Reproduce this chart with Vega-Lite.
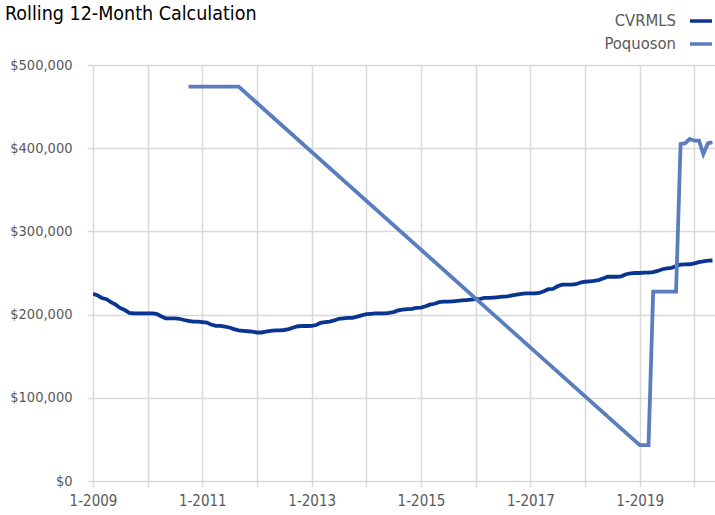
{
  "$schema": "https://vega.github.io/schema/vega-lite/v6.json",
  "width": 622,
  "height": 416,
  "autosize": {"type": "none"},
  "padding": {"left": 93, "top": 65, "right": 0, "bottom": 34},
  "background": "white",
  "title": {
    "text": "Rolling 12-Month Calculation",
    "anchor": "start",
    "frame": "group",
    "orient": "top",
    "baseline": "alphabetic",
    "dx": -88,
    "dy": 19,
    "offset": -10,
    "font": "DejaVu Sans Condensed, Liberation Sans, sans-serif",
    "fontSize": 19.5,
    "fontWeight": "normal",
    "color": "#000000"
  },
  "config": {
    "view": {"stroke": null},
    "axis": {
      "gridColor": "#d9d9d9",
      "gridWidth": 1.5,
      "tickColor": "#d9d9d9",
      "tickWidth": 1.5,
      "tickSize": 6,
      "domain": false,
      "labelFont": "DejaVu Sans Condensed, Liberation Sans, sans-serif",
      "labelFontSize": 15,
      "labelColor": "#595959",
      "title": null
    }
  },
  "data": {
    "values": [
      {"series": "CVRMLS", "date": "2009-01-01T00:00:00", "value": 225000},
      {"series": "CVRMLS", "date": "2009-02-01T00:00:00", "value": 223000},
      {"series": "CVRMLS", "date": "2009-03-01T00:00:00", "value": 220000},
      {"series": "CVRMLS", "date": "2009-04-01T00:00:00", "value": 218500},
      {"series": "CVRMLS", "date": "2009-05-01T00:00:00", "value": 215000},
      {"series": "CVRMLS", "date": "2009-06-01T00:00:00", "value": 212000},
      {"series": "CVRMLS", "date": "2009-07-01T00:00:00", "value": 208000},
      {"series": "CVRMLS", "date": "2009-08-01T00:00:00", "value": 205500},
      {"series": "CVRMLS", "date": "2009-09-01T00:00:00", "value": 202000},
      {"series": "CVRMLS", "date": "2009-10-01T00:00:00", "value": 201500},
      {"series": "CVRMLS", "date": "2009-11-01T00:00:00", "value": 201500},
      {"series": "CVRMLS", "date": "2009-12-01T00:00:00", "value": 201500},
      {"series": "CVRMLS", "date": "2010-01-01T00:00:00", "value": 201500},
      {"series": "CVRMLS", "date": "2010-02-01T00:00:00", "value": 201500},
      {"series": "CVRMLS", "date": "2010-03-01T00:00:00", "value": 201000},
      {"series": "CVRMLS", "date": "2010-04-01T00:00:00", "value": 198000},
      {"series": "CVRMLS", "date": "2010-05-01T00:00:00", "value": 195500},
      {"series": "CVRMLS", "date": "2010-06-01T00:00:00", "value": 195500},
      {"series": "CVRMLS", "date": "2010-07-01T00:00:00", "value": 195500},
      {"series": "CVRMLS", "date": "2010-08-01T00:00:00", "value": 195000},
      {"series": "CVRMLS", "date": "2010-09-01T00:00:00", "value": 193500},
      {"series": "CVRMLS", "date": "2010-10-01T00:00:00", "value": 192500},
      {"series": "CVRMLS", "date": "2010-11-01T00:00:00", "value": 191500},
      {"series": "CVRMLS", "date": "2010-12-01T00:00:00", "value": 191500},
      {"series": "CVRMLS", "date": "2011-01-01T00:00:00", "value": 191000},
      {"series": "CVRMLS", "date": "2011-02-01T00:00:00", "value": 190500},
      {"series": "CVRMLS", "date": "2011-03-01T00:00:00", "value": 188000},
      {"series": "CVRMLS", "date": "2011-04-01T00:00:00", "value": 186500},
      {"series": "CVRMLS", "date": "2011-05-01T00:00:00", "value": 186500},
      {"series": "CVRMLS", "date": "2011-06-01T00:00:00", "value": 185500},
      {"series": "CVRMLS", "date": "2011-07-01T00:00:00", "value": 184500},
      {"series": "CVRMLS", "date": "2011-08-01T00:00:00", "value": 182500},
      {"series": "CVRMLS", "date": "2011-09-01T00:00:00", "value": 181000},
      {"series": "CVRMLS", "date": "2011-10-01T00:00:00", "value": 180500},
      {"series": "CVRMLS", "date": "2011-11-01T00:00:00", "value": 180000},
      {"series": "CVRMLS", "date": "2011-12-01T00:00:00", "value": 179500},
      {"series": "CVRMLS", "date": "2012-01-01T00:00:00", "value": 178500},
      {"series": "CVRMLS", "date": "2012-02-01T00:00:00", "value": 178500},
      {"series": "CVRMLS", "date": "2012-03-01T00:00:00", "value": 179500},
      {"series": "CVRMLS", "date": "2012-04-01T00:00:00", "value": 180500},
      {"series": "CVRMLS", "date": "2012-05-01T00:00:00", "value": 181000},
      {"series": "CVRMLS", "date": "2012-06-01T00:00:00", "value": 181000},
      {"series": "CVRMLS", "date": "2012-07-01T00:00:00", "value": 181500},
      {"series": "CVRMLS", "date": "2012-08-01T00:00:00", "value": 182500},
      {"series": "CVRMLS", "date": "2012-09-01T00:00:00", "value": 184500},
      {"series": "CVRMLS", "date": "2012-10-01T00:00:00", "value": 186000},
      {"series": "CVRMLS", "date": "2012-11-01T00:00:00", "value": 186300},
      {"series": "CVRMLS", "date": "2012-12-01T00:00:00", "value": 186300},
      {"series": "CVRMLS", "date": "2013-01-01T00:00:00", "value": 186500},
      {"series": "CVRMLS", "date": "2013-02-01T00:00:00", "value": 187500},
      {"series": "CVRMLS", "date": "2013-03-01T00:00:00", "value": 190000},
      {"series": "CVRMLS", "date": "2013-04-01T00:00:00", "value": 191000},
      {"series": "CVRMLS", "date": "2013-05-01T00:00:00", "value": 191500},
      {"series": "CVRMLS", "date": "2013-06-01T00:00:00", "value": 193000},
      {"series": "CVRMLS", "date": "2013-07-01T00:00:00", "value": 195000},
      {"series": "CVRMLS", "date": "2013-08-01T00:00:00", "value": 195500},
      {"series": "CVRMLS", "date": "2013-09-01T00:00:00", "value": 196000},
      {"series": "CVRMLS", "date": "2013-10-01T00:00:00", "value": 196000},
      {"series": "CVRMLS", "date": "2013-11-01T00:00:00", "value": 197500},
      {"series": "CVRMLS", "date": "2013-12-01T00:00:00", "value": 199000},
      {"series": "CVRMLS", "date": "2014-01-01T00:00:00", "value": 200500},
      {"series": "CVRMLS", "date": "2014-02-01T00:00:00", "value": 201000},
      {"series": "CVRMLS", "date": "2014-03-01T00:00:00", "value": 201500},
      {"series": "CVRMLS", "date": "2014-04-01T00:00:00", "value": 201500},
      {"series": "CVRMLS", "date": "2014-05-01T00:00:00", "value": 201500},
      {"series": "CVRMLS", "date": "2014-06-01T00:00:00", "value": 202000},
      {"series": "CVRMLS", "date": "2014-07-01T00:00:00", "value": 203000},
      {"series": "CVRMLS", "date": "2014-08-01T00:00:00", "value": 205000},
      {"series": "CVRMLS", "date": "2014-09-01T00:00:00", "value": 206000},
      {"series": "CVRMLS", "date": "2014-10-01T00:00:00", "value": 206500},
      {"series": "CVRMLS", "date": "2014-11-01T00:00:00", "value": 207000},
      {"series": "CVRMLS", "date": "2014-12-01T00:00:00", "value": 208000},
      {"series": "CVRMLS", "date": "2015-01-01T00:00:00", "value": 208500},
      {"series": "CVRMLS", "date": "2015-02-01T00:00:00", "value": 210000},
      {"series": "CVRMLS", "date": "2015-03-01T00:00:00", "value": 212000},
      {"series": "CVRMLS", "date": "2015-04-01T00:00:00", "value": 213000},
      {"series": "CVRMLS", "date": "2015-05-01T00:00:00", "value": 215000},
      {"series": "CVRMLS", "date": "2015-06-01T00:00:00", "value": 215500},
      {"series": "CVRMLS", "date": "2015-07-01T00:00:00", "value": 215500},
      {"series": "CVRMLS", "date": "2015-08-01T00:00:00", "value": 216000},
      {"series": "CVRMLS", "date": "2015-09-01T00:00:00", "value": 216500},
      {"series": "CVRMLS", "date": "2015-10-01T00:00:00", "value": 217000},
      {"series": "CVRMLS", "date": "2015-11-01T00:00:00", "value": 217500},
      {"series": "CVRMLS", "date": "2015-12-01T00:00:00", "value": 218000},
      {"series": "CVRMLS", "date": "2016-01-01T00:00:00", "value": 218500},
      {"series": "CVRMLS", "date": "2016-02-01T00:00:00", "value": 219000},
      {"series": "CVRMLS", "date": "2016-03-01T00:00:00", "value": 220000},
      {"series": "CVRMLS", "date": "2016-04-01T00:00:00", "value": 220000},
      {"series": "CVRMLS", "date": "2016-05-01T00:00:00", "value": 220500},
      {"series": "CVRMLS", "date": "2016-06-01T00:00:00", "value": 221000},
      {"series": "CVRMLS", "date": "2016-07-01T00:00:00", "value": 221500},
      {"series": "CVRMLS", "date": "2016-08-01T00:00:00", "value": 222000},
      {"series": "CVRMLS", "date": "2016-09-01T00:00:00", "value": 223000},
      {"series": "CVRMLS", "date": "2016-10-01T00:00:00", "value": 224000},
      {"series": "CVRMLS", "date": "2016-11-01T00:00:00", "value": 225000},
      {"series": "CVRMLS", "date": "2016-12-01T00:00:00", "value": 225500},
      {"series": "CVRMLS", "date": "2017-01-01T00:00:00", "value": 225500},
      {"series": "CVRMLS", "date": "2017-02-01T00:00:00", "value": 225500},
      {"series": "CVRMLS", "date": "2017-03-01T00:00:00", "value": 226000},
      {"series": "CVRMLS", "date": "2017-04-01T00:00:00", "value": 228000},
      {"series": "CVRMLS", "date": "2017-05-01T00:00:00", "value": 230500},
      {"series": "CVRMLS", "date": "2017-06-01T00:00:00", "value": 231000},
      {"series": "CVRMLS", "date": "2017-07-01T00:00:00", "value": 234000},
      {"series": "CVRMLS", "date": "2017-08-01T00:00:00", "value": 236000},
      {"series": "CVRMLS", "date": "2017-09-01T00:00:00", "value": 236000},
      {"series": "CVRMLS", "date": "2017-10-01T00:00:00", "value": 236000},
      {"series": "CVRMLS", "date": "2017-11-01T00:00:00", "value": 236500},
      {"series": "CVRMLS", "date": "2017-12-01T00:00:00", "value": 238500},
      {"series": "CVRMLS", "date": "2018-01-01T00:00:00", "value": 239500},
      {"series": "CVRMLS", "date": "2018-02-01T00:00:00", "value": 240000},
      {"series": "CVRMLS", "date": "2018-03-01T00:00:00", "value": 240500},
      {"series": "CVRMLS", "date": "2018-04-01T00:00:00", "value": 241500},
      {"series": "CVRMLS", "date": "2018-05-01T00:00:00", "value": 243500},
      {"series": "CVRMLS", "date": "2018-06-01T00:00:00", "value": 245500},
      {"series": "CVRMLS", "date": "2018-07-01T00:00:00", "value": 245500},
      {"series": "CVRMLS", "date": "2018-08-01T00:00:00", "value": 245500},
      {"series": "CVRMLS", "date": "2018-09-01T00:00:00", "value": 246000},
      {"series": "CVRMLS", "date": "2018-10-01T00:00:00", "value": 248500},
      {"series": "CVRMLS", "date": "2018-11-01T00:00:00", "value": 249500},
      {"series": "CVRMLS", "date": "2018-12-01T00:00:00", "value": 250000},
      {"series": "CVRMLS", "date": "2019-01-01T00:00:00", "value": 250000},
      {"series": "CVRMLS", "date": "2019-02-01T00:00:00", "value": 250500},
      {"series": "CVRMLS", "date": "2019-03-01T00:00:00", "value": 250500},
      {"series": "CVRMLS", "date": "2019-04-01T00:00:00", "value": 251000},
      {"series": "CVRMLS", "date": "2019-05-01T00:00:00", "value": 252500},
      {"series": "CVRMLS", "date": "2019-06-01T00:00:00", "value": 254500},
      {"series": "CVRMLS", "date": "2019-07-01T00:00:00", "value": 255500},
      {"series": "CVRMLS", "date": "2019-08-01T00:00:00", "value": 256000},
      {"series": "CVRMLS", "date": "2019-09-01T00:00:00", "value": 258500},
      {"series": "CVRMLS", "date": "2019-10-01T00:00:00", "value": 260000},
      {"series": "CVRMLS", "date": "2019-11-01T00:00:00", "value": 260300},
      {"series": "CVRMLS", "date": "2019-12-01T00:00:00", "value": 260500},
      {"series": "CVRMLS", "date": "2020-01-01T00:00:00", "value": 261500},
      {"series": "CVRMLS", "date": "2020-02-01T00:00:00", "value": 263000},
      {"series": "CVRMLS", "date": "2020-03-01T00:00:00", "value": 264000},
      {"series": "CVRMLS", "date": "2020-04-01T00:00:00", "value": 264800},
      {"series": "CVRMLS", "date": "2020-05-01T00:00:00", "value": 265000},
      {"series": "Poquoson", "date": "2010-10-01T00:00:00", "value": 474000},
      {"series": "Poquoson", "date": "2011-09-01T00:00:00", "value": 474000},
      {"series": "Poquoson", "date": "2019-01-01T00:00:00", "value": 43000},
      {"series": "Poquoson", "date": "2019-03-01T00:00:00", "value": 43000},
      {"series": "Poquoson", "date": "2019-04-01T00:00:00", "value": 227500},
      {"series": "Poquoson", "date": "2019-09-01T00:00:00", "value": 227500},
      {"series": "Poquoson", "date": "2019-10-01T00:00:00", "value": 405000},
      {"series": "Poquoson", "date": "2019-11-01T00:00:00", "value": 406000},
      {"series": "Poquoson", "date": "2019-12-01T00:00:00", "value": 411000},
      {"series": "Poquoson", "date": "2020-01-01T00:00:00", "value": 409000},
      {"series": "Poquoson", "date": "2020-02-01T00:00:00", "value": 409000},
      {"series": "Poquoson", "date": "2020-03-01T00:00:00", "value": 393000},
      {"series": "Poquoson", "date": "2020-04-01T00:00:00", "value": 406000},
      {"series": "Poquoson", "date": "2020-05-01T00:00:00", "value": 407000}
    ]
  },
  "mark": {"type": "line", "strokeWidth": 3.8, "clip": true},
  "encoding": {
    "x": {
      "field": "date",
      "type": "temporal",
      "scale": {"domain": [{"year": 2009, "month": 1, "date": 1}, {"year": 2020, "month": 5, "date": 18}]},
      "axis": {
        "values": [
          {"year": 2009, "month": 1, "date": 1}, {"year": 2010, "month": 1, "date": 1},
          {"year": 2011, "month": 1, "date": 1}, {"year": 2012, "month": 1, "date": 1},
          {"year": 2013, "month": 1, "date": 1}, {"year": 2014, "month": 1, "date": 1},
          {"year": 2015, "month": 1, "date": 1}, {"year": 2016, "month": 1, "date": 1},
          {"year": 2017, "month": 1, "date": 1}, {"year": 2018, "month": 1, "date": 1},
          {"year": 2019, "month": 1, "date": 1}, {"year": 2020, "month": 1, "date": 1}
        ],
        "labelExpr": "year(datum.value) % 2 == 1 ? '1-' + year(datum.value) : ''",
        "labelPadding": 6,
        "labelFlush": false,
        "labelOverlap": false
      }
    },
    "y": {
      "field": "value",
      "type": "quantitative",
      "scale": {"domain": [0, 500000]},
      "axis": {"values": [0, 100000, 200000, 300000, 400000, 500000], "format": "$,.0f", "labelPadding": 15, "labelFontSize": 14.5}
    },
    "color": {
      "field": "series",
      "type": "nominal",
      "scale": {"domain": ["CVRMLS", "Poquoson"], "range": ["#0a3491", "#5a7ebd"]},
      "legend": {
        "title": null,
        "orient": "none",
        "legendX": 597.5,
        "legendY": -54.5,
        "padding": 0,
        "labelAlign": "right",
        "labelOffset": -35.5,
        "symbolType": "M-1.3,0H1.3",
        "symbolSize": 289,
        "symbolStrokeWidth": 3.5,
        "labelFont": "DejaVu Sans Condensed, Liberation Sans, sans-serif",
        "labelFontSize": 16.5,
        "labelColor": "#595959",
        "rowPadding": 4
      }
    }
  }
}
